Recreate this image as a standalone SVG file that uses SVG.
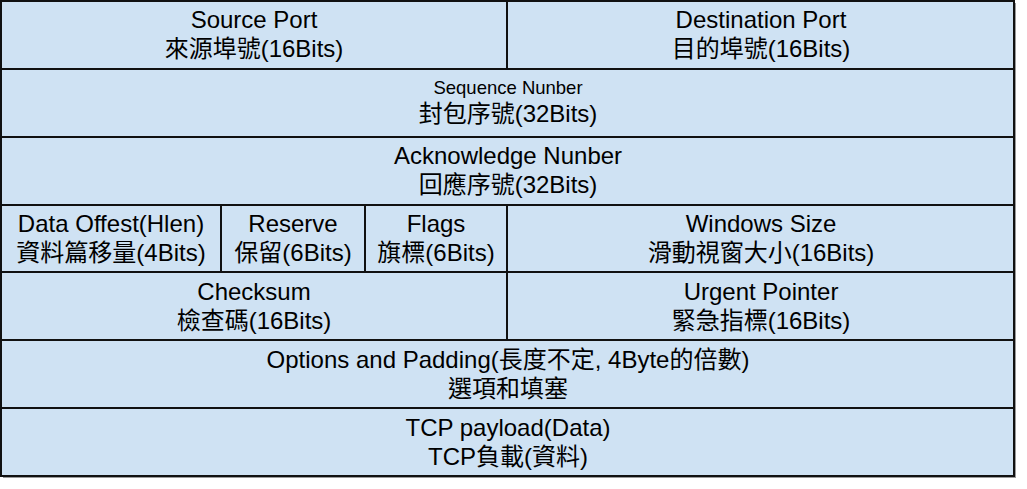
<svg xmlns="http://www.w3.org/2000/svg" width="1027" height="489" viewBox="0 0 1027 489">
<style>
.cell{fill:#cfe2f3;stroke:#111;stroke-width:2}
.t{font-family:"Liberation Sans","Noto Sans CJK TC",sans-serif;font-size:24px;fill:#000;text-anchor:middle}
.s{font-size:18.5px}
</style>
<rect x="3" y="3" width="1013" height="475" fill="#9a9a9a"/>
<g id="source-port"><rect class="cell" x="1" y="1" width="506" height="68"/><text class="t" x="254" y="28">Source Port</text><text class="t" x="254" y="57">來源埠號(16Bits)</text></g>
<g id="destination-port"><rect class="cell" x="507" y="1" width="507" height="68"/><text class="t" x="761" y="28">Destination Port</text><text class="t" x="761" y="57">目的埠號(16Bits)</text></g>
<g id="sequence-number"><rect class="cell" x="1" y="69" width="1013" height="68"/><text class="t s" x="508" y="94">Sequence Nunber</text><text class="t" x="508" y="122">封包序號(32Bits)</text></g>
<g id="acknowledge-number"><rect class="cell" x="1" y="137" width="1013" height="68"/><text class="t" x="508" y="164">Acknowledge Nunber</text><text class="t" x="508" y="193">回應序號(32Bits)</text></g>
<g id="data-offset"><rect class="cell" x="1" y="205" width="220" height="67"/><text class="t" x="111" y="232">Data Offest(Hlen)</text><text class="t" x="111" y="261">資料篇移量(4Bits)</text></g>
<g id="reserve"><rect class="cell" x="221" y="205" width="144" height="67"/><text class="t" x="293" y="232">Reserve</text><text class="t" x="293" y="261">保留(6Bits)</text></g>
<g id="flags"><rect class="cell" x="365" y="205" width="142" height="67"/><text class="t" x="436" y="232">Flags</text><text class="t" x="436" y="261">旗標(6Bits)</text></g>
<g id="windows-size"><rect class="cell" x="507" y="205" width="507" height="67"/><text class="t" x="761" y="232">Windows Size</text><text class="t" x="761" y="261">滑動視窗大小(16Bits)</text></g>
<g id="checksum"><rect class="cell" x="1" y="272" width="506" height="68"/><text class="t" x="254" y="300">Checksum</text><text class="t" x="254" y="329">檢查碼(16Bits)</text></g>
<g id="urgent-pointer"><rect class="cell" x="507" y="272" width="507" height="68"/><text class="t" x="761" y="300">Urgent Pointer</text><text class="t" x="761" y="329">緊急指標(16Bits)</text></g>
<g id="options"><rect class="cell" x="1" y="340" width="1013" height="68"/><text class="t" x="508" y="368">Options and Padding(長度不定, 4Byte的倍數)</text><text class="t" x="508" y="397">選項和填塞</text></g>
<g id="payload"><rect class="cell" x="1" y="408" width="1013" height="68"/><text class="t" x="508" y="436">TCP payload(Data)</text><text class="t" x="508" y="465">TCP負載(資料)</text></g>
</svg>
